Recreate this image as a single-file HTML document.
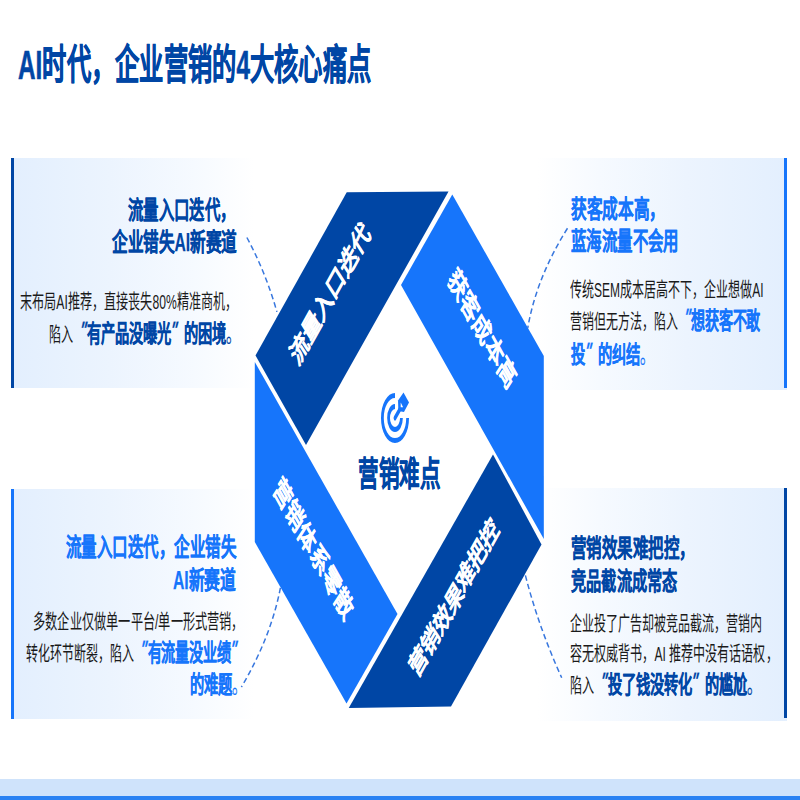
<!DOCTYPE html>
<html lang="zh-CN"><head><meta charset="utf-8"><style>
html,body{margin:0;padding:0;background:#fff}
body{width:800px;height:800px;position:relative;overflow:hidden;font-family:"Liberation Sans",sans-serif}
.p{position:absolute;height:230px}
.t{position:absolute;white-space:nowrap;line-height:1;transform-origin:0 0}
.bt{position:absolute;width:0;height:0}
.ql{display:inline-block;transform:skewX(-22deg) translateY(-0.17em);margin-left:.4em;margin-right:.1em}
.qr{display:inline-block;transform:skewX(-22deg) translateY(-0.17em);margin-left:-.08em;margin-right:.55em}
.bt>div{position:absolute;left:0;top:0;white-space:nowrap;color:#fff;font-weight:900;-webkit-text-stroke:0.25px #fff;line-height:1;transform-origin:0 0}
</style></head><body>
<div class="p" style="left:11px;top:158px;width:240px;border-left:3px solid #0046a5;background:linear-gradient(to right,#e3effe,#ecf4fe 40%,#f6faff 75%,#fff)"></div>
<div class="p" style="left:537px;top:158px;width:250px;height:232px;background:linear-gradient(to left,#e3effe,#ecf4fe 40%,#f6faff 75%,#fff)"></div><div class="p" style="left:784px;top:158px;width:3px;background:#1675fb"></div>
<div class="p" style="left:11px;top:489px;width:240px;border-left:3px solid #1675fb;background:linear-gradient(to right,#e3effe,#ecf4fe 40%,#f6faff 75%,#fff)"></div>
<div class="p" style="left:537px;top:488px;width:250px;height:232.5px;background:linear-gradient(to left,#e3effe,#ecf4fe 40%,#f6faff 75%,#fff)"></div><div class="p" style="left:784px;top:488px;width:3px;background:#0046a5"></div>
<div style="position:absolute;left:0;top:779px;width:800px;height:17px;background:#cfe3fb"></div>
<div style="position:absolute;left:0;top:795.5px;width:800px;height:5px;background:#2a82f3"></div>
<svg width="800" height="800" style="position:absolute;left:0;top:0">
<polygon points="346.75,192.3 448.5,191.5 306,445 255.5,355.6" fill="#0046a5"/>
<polygon points="452.3,194.4 543.8,356 543.8,539 401,285" fill="#1675fb"/>
<polygon points="451,706.6 348.75,708 493,454.5 541.5,544.4" fill="#0046a5"/>
<polygon points="346.5,703.5 254.8,542 254.8,362 397.5,614" fill="#1675fb"/>
<g fill="none" stroke="#3877de" stroke-width="1.5" stroke-dasharray="5.5 3.3">
<path d="M246.9,237.5 Q266,273 276.9,311.9"/>
<path d="M567.5,228.25 Q536.3,278 527.75,328"/>
<path d="M280.4,587.9 Q271,637 241.4,687"/>
<path d="M525.4,575.4 Q538.5,626.6 561.7,677.8"/>
</g>
</svg>
<svg width="56" height="52" viewBox="0 0 56 52" style="position:absolute;left:367px;top:391.5px;transform:scaleX(0.56)">
<g fill="none" stroke="#1675fb" stroke-width="5">
<path d="M28 3.5 A22.5 22.5 0 1 0 50.5 26"/>
<path d="M28 14.5 A11.5 11.5 0 1 0 39.5 26"/>
<path d="M28 26 L40 14" stroke-linecap="round"/>
</g>
<path d="M43.2 0.5 L53 10.4 L44 20 L34 19 L33.4 8.5 Z" fill="#1675fb"/>
<path d="M38.2 10.5 L42.5 15.2 L38.2 15.2 Z" fill="#fff"/>
</svg>
<div class="bt" style="left:330px;top:294px"><div style="transform:scaleX(0.6) rotate(-47deg) translate(-50%,-50%);font-size:30px">流量入口迭代</div></div><div class="bt" style="left:481.9px;top:328.6px"><div style="transform:scaleX(0.6) rotate(47deg) translate(-50%,-50%);font-size:30px">获客成本高</div></div><div class="bt" style="left:313.2px;top:549.1px"><div style="transform:scaleX(0.6) rotate(47deg) translate(-50%,-50%);font-size:30px">营销体系零散</div></div><div class="bt" style="left:454px;top:597.9px"><div style="transform:scaleX(0.6) rotate(-47deg) translate(-50%,-50%);font-size:29.3px">营销效果难把控</div></div>
<div class="t" style="left:18.16px;top:44.50px;font-size:41px;font-weight:900;color:#0046a5;-webkit-text-stroke:0.6px #0046a5;transform:scaleX(0.5920)">AI时代，企业营销的4大核心痛点</div>
<div class="t" style="left:127.99px;top:198.03px;font-size:25px;font-weight:900;color:#0046a5;-webkit-text-stroke:0.25px #0046a5;transform:scaleX(0.6149)">流量入口迭代，</div>
<div class="t" style="left:111.65px;top:230.40px;font-size:25px;font-weight:900;color:#0046a5;-webkit-text-stroke:0.25px #0046a5;transform:scaleX(0.6247)">企业错失AI新赛道</div>
<div class="t" style="left:19.64px;top:292.15px;font-size:20px;font-weight:400;color:#1a1a1a;transform:scaleX(0.6051)">末布局AI推荐，直接丧失80%精准商机，</div>
<div class="t" style="left:49.29px;top:322.50px;font-size:20px;font-weight:400;color:#1a1a1a;transform:scaleX(0.6057)">陷入<span style="color:#0046a5;font-weight:900;-webkit-text-stroke:0.2px #0046a5;font-size:23.5px"><span class="ql">"</span>有产品没曝光<span class="qr">"</span>的困境<span style="font-weight:400">。</span></span></div>
<div class="t" style="left:571.40px;top:197.30px;font-size:25px;font-weight:900;color:#1675fb;-webkit-text-stroke:0.25px #1675fb;transform:scaleX(0.6269)">获客成本高，</div>
<div class="t" style="left:570.78px;top:229.25px;font-size:25px;font-weight:900;color:#1675fb;-webkit-text-stroke:0.25px #1675fb;transform:scaleX(0.6154)">蓝海流量不会用</div>
<div class="t" style="left:570.40px;top:279.60px;font-size:20px;font-weight:400;color:#1a1a1a;transform:scaleX(0.6006)">传统SEM成本居高不下，企业想做AI</div>
<div class="t" style="left:570.40px;top:309.80px;font-size:20px;font-weight:400;color:#1a1a1a;transform:scaleX(0.5978)">营销但无方法，陷入<span style="color:#1675fb;font-weight:900;-webkit-text-stroke:0.2px #1675fb;font-size:23.5px"><span class="ql">"</span>想获客不敢</span></div>
<div class="t" style="left:570.80px;top:344.00px;font-size:20px;font-weight:400;color:#1a1a1a;transform:scaleX(0.6061)"><span style="color:#1675fb;font-weight:900;-webkit-text-stroke:0.2px #1675fb;font-size:23.5px">投<span class="qr">"</span>的纠结<span style="font-weight:400">。</span></span></div>
<div class="t" style="left:65.78px;top:535.23px;font-size:25px;font-weight:900;color:#1675fb;-webkit-text-stroke:0.25px #1675fb;transform:scaleX(0.6190)">流量入口迭代，企业错失</div>
<div class="t" style="left:173.12px;top:568.45px;font-size:25px;font-weight:900;color:#1675fb;-webkit-text-stroke:0.25px #1675fb;transform:scaleX(0.6288)">AI新赛道</div>
<div class="t" style="left:33.38px;top:611.95px;font-size:20px;font-weight:400;color:#1a1a1a;transform:scaleX(0.6097)">多数企业仅做单一平台/单一形式营销，</div>
<div class="t" style="left:26.40px;top:641.80px;font-size:20px;font-weight:400;color:#1a1a1a;transform:scaleX(0.5997)">转化环节断裂，陷入<span style="color:#1675fb;font-weight:900;-webkit-text-stroke:0.2px #1675fb;font-size:23.5px"><span class="ql">"</span>有流量没业绩<span class="qr">"</span></span></div>
<div class="t" style="left:189.79px;top:674.30px;font-size:20px;font-weight:400;color:#1a1a1a;transform:scaleX(0.6053)"><span style="color:#1675fb;font-weight:900;-webkit-text-stroke:0.2px #1675fb;font-size:23.5px">的难题<span style="font-weight:400">。</span></span></div>
<div class="t" style="left:570.78px;top:536.25px;font-size:25px;font-weight:900;color:#0046a5;-webkit-text-stroke:0.25px #0046a5;transform:scaleX(0.6186)">营销效果难把控，</div>
<div class="t" style="left:570.79px;top:568.65px;font-size:25px;font-weight:900;color:#0046a5;-webkit-text-stroke:0.25px #0046a5;transform:scaleX(0.6083)">竞品截流成常态</div>
<div class="t" style="left:570.30px;top:614.00px;font-size:20px;font-weight:400;color:#1a1a1a;transform:scaleX(0.6006)">企业投了广告却被竞品截流，营销内</div>
<div class="t" style="left:570.40px;top:644.45px;font-size:20px;font-weight:400;color:#1a1a1a;transform:scaleX(0.6027)">容无权威背书，AI 推荐中没有话语权，</div>
<div class="t" style="left:569.79px;top:674.30px;font-size:20px;font-weight:400;color:#1a1a1a;transform:scaleX(0.6047)">陷入<span style="color:#0046a5;font-weight:900;-webkit-text-stroke:0.2px #0046a5;font-size:23.5px"><span class="ql">"</span>投了钱没转化<span class="qr">"</span>的尴尬<span style="font-weight:400">。</span></span></div>
<div class="t" style="left:357.65px;top:456.62px;font-size:34px;font-weight:900;color:#0046a5;-webkit-text-stroke:0.45px #0046a5;transform:scaleX(0.6045)">营销难点</div>
</body></html>
